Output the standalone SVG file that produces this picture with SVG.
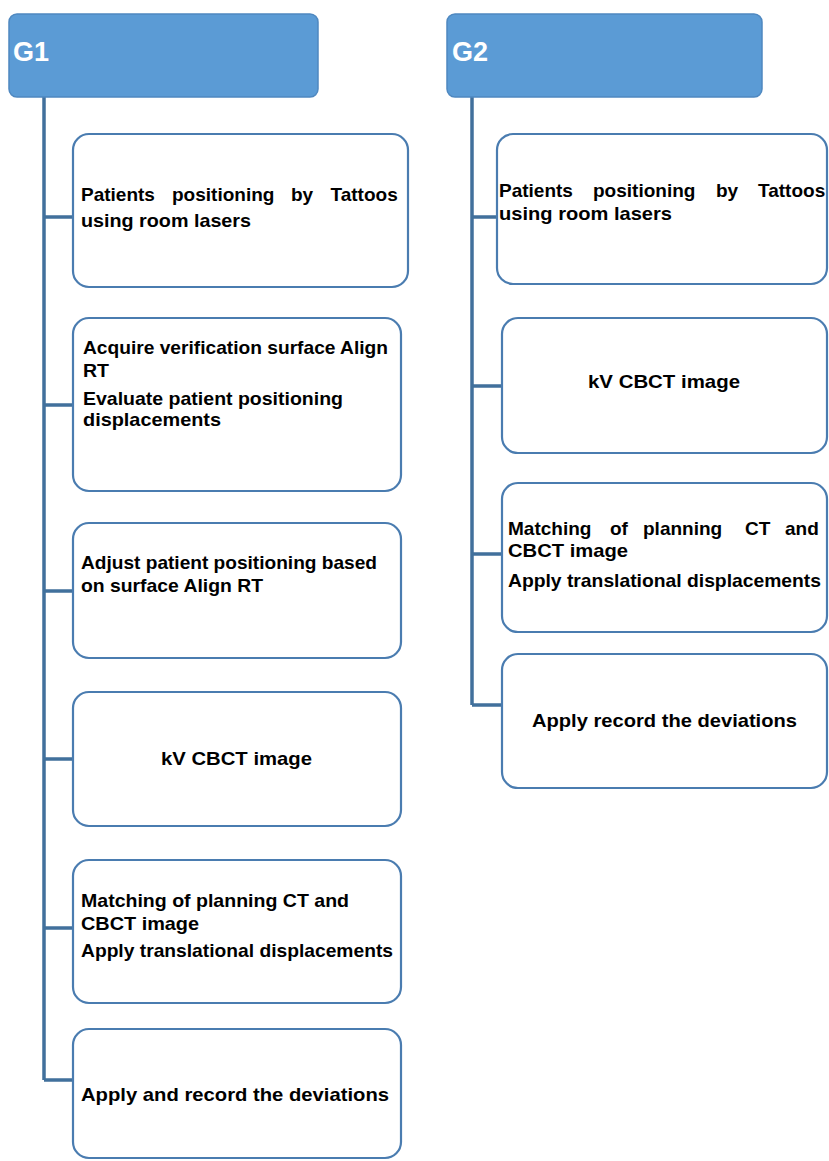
<svg xmlns="http://www.w3.org/2000/svg" width="829" height="1161" viewBox="0 0 829 1161">
<style>
.hdr{fill:#5b9bd5;stroke:#4f88c0;stroke-width:1.5}
.box{fill:#ffffff;stroke:#4a7cb0;stroke-width:2.2}
.ht{font-family:"Liberation Sans",Arial,sans-serif;font-weight:bold;font-size:27px;fill:#ffffff}
.t{font-family:"Liberation Sans",Arial,sans-serif;font-weight:bold;font-size:19px;fill:#000000}
.c{fill:none;stroke:#41709c;stroke-width:3.5}
</style>
<rect width="829" height="1161" fill="#ffffff"/>
<g id="connectors">
<path class="c" d="M44 97 V1080 M44 217 H73 M44 405 H73 M44 591 H73 M44 759 H73 M44 928 H73 M44 1080 H73"/>
<path class="c" d="M472 97 V705 M472 217 H497 M472 386 H502 M472 554 H502 M472 705 H502"/>
</g>
<g id="g1">
<rect class="hdr" x="9" y="14" width="309" height="83" rx="8"/>
<text class="ht" x="13" y="61">G1</text>
</g>
<g id="g2">
<rect class="hdr" x="447" y="14" width="315" height="83" rx="8"/>
<text class="ht" x="452" y="61">G2</text>
</g>
<g id="g1n1">
<rect class="box" x="73" y="134" width="335" height="153" rx="16"/>
<text class="t" y="201"><tspan x="81">Patients</tspan><tspan x="172">positioning</tspan><tspan x="291">by</tspan><tspan x="330.5">Tattoos</tspan></text>
<text class="t" x="81" y="227" textLength="170" lengthAdjust="spacingAndGlyphs">using room lasers</text>
</g>
<g id="g1n2">
<rect class="box" x="73" y="318" width="328" height="173" rx="16"/>
<text class="t" x="83" y="354" textLength="305" lengthAdjust="spacingAndGlyphs">Acquire verification surface Align</text>
<text class="t" x="83" y="377" textLength="26" lengthAdjust="spacingAndGlyphs">RT</text>
<text class="t" x="83" y="405" textLength="260" lengthAdjust="spacingAndGlyphs">Evaluate patient positioning</text>
<text class="t" x="83" y="426" textLength="138" lengthAdjust="spacingAndGlyphs">displacements</text>
</g>
<g id="g1n3">
<rect class="box" x="73" y="523" width="328" height="135" rx="16"/>
<text class="t" x="81" y="569" textLength="296" lengthAdjust="spacingAndGlyphs">Adjust patient positioning based</text>
<text class="t" x="81" y="592" textLength="182" lengthAdjust="spacingAndGlyphs">on surface Align RT</text>
</g>
<g id="g1n4">
<rect class="box" x="73" y="692" width="328" height="134" rx="16"/>
<text class="t" x="161" y="765" textLength="151" lengthAdjust="spacingAndGlyphs">kV CBCT image</text>
</g>
<g id="g1n5">
<rect class="box" x="73" y="860" width="328" height="143" rx="16"/>
<text class="t" x="81" y="907" textLength="268" lengthAdjust="spacingAndGlyphs">Matching of planning CT and</text>
<text class="t" x="81" y="930" textLength="118" lengthAdjust="spacingAndGlyphs">CBCT image</text>
<text class="t" x="81" y="957" textLength="312" lengthAdjust="spacingAndGlyphs">Apply translational displacements</text>
</g>
<g id="g1n6">
<rect class="box" x="73" y="1029" width="328" height="129" rx="16"/>
<text class="t" x="81" y="1101" textLength="308" lengthAdjust="spacingAndGlyphs">Apply and record the deviations</text>
</g>
<g id="g2n1">
<rect class="box" x="497" y="134" width="330" height="150" rx="16"/>
<text class="t" y="197"><tspan x="499">Patients</tspan><tspan x="593">positioning</tspan><tspan x="716">by</tspan><tspan x="758">Tattoos</tspan></text>
<text class="t" x="499" y="220" textLength="173" lengthAdjust="spacingAndGlyphs">using room lasers</text>
</g>
<g id="g2n2">
<rect class="box" x="502" y="318" width="325" height="135" rx="16"/>
<text class="t" x="588" y="388" textLength="152" lengthAdjust="spacingAndGlyphs">kV CBCT image</text>
</g>
<g id="g2n3">
<rect class="box" x="502" y="483" width="325" height="149" rx="16"/>
<text class="t" y="535"><tspan x="508">Matching</tspan><tspan x="610">of</tspan><tspan x="643">planning</tspan><tspan x="745">CT</tspan><tspan x="785">and</tspan></text>
<text class="t" x="508" y="557" textLength="120" lengthAdjust="spacingAndGlyphs">CBCT image</text>
<text class="t" x="508" y="587" textLength="313" lengthAdjust="spacingAndGlyphs">Apply translational displacements</text>
</g>
<g id="g2n4">
<rect class="box" x="502" y="654" width="325" height="134" rx="16"/>
<text class="t" x="532" y="727" textLength="265" lengthAdjust="spacingAndGlyphs">Apply record the deviations</text>
</g>
</svg>
